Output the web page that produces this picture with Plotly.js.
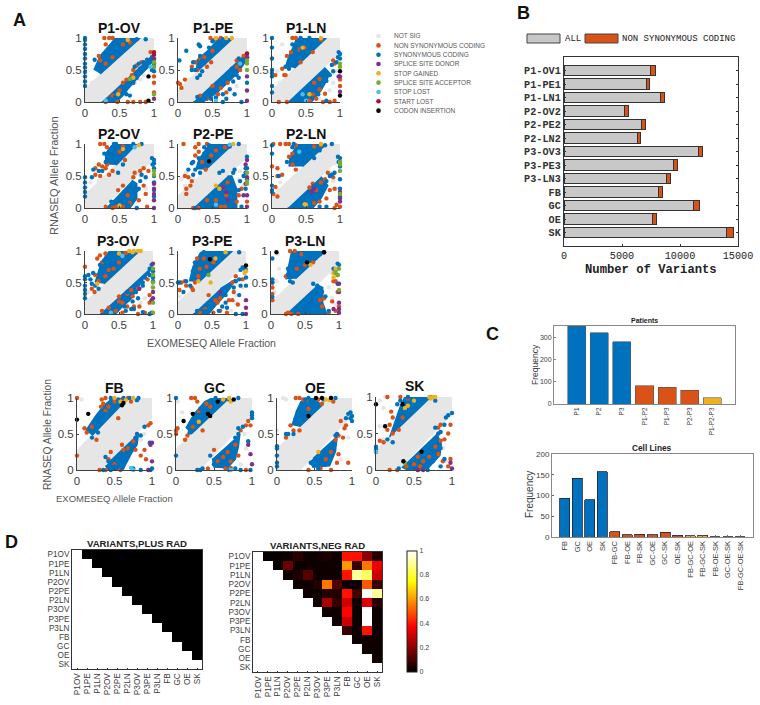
<!DOCTYPE html>
<html><head><meta charset="utf-8">
<script src="https://cdn.plot.ly/plotly-3.0.1.min.js"></script>
<style>html,body{margin:0;padding:0;background:#fff}</style></head>
<body><div id="chart" style="width:760px;height:705px"></div>
<script>
/* ---------- panel A legend ---------- */
const CLASSES=['NOT SIG','NON SYNONYMOUS CODING','SYNONYMOUS CODING','SPLICE SITE DONOR','STOP GAINED','SPLICE SITE ACCEPTOR','STOP LOST','START LOST','CODON INSERTION'];
const CLASS_COLORS=['#E6E6E6','#D95319','#0072BD','#7E2F8E','#EDB120','#77AC30','#4DBEEE','#A2142F','#000000'];

/* ---------- panel A: flat x,y lists ---------- */
const P1OV_band=[0,0,0,.22,.78,1,1,1,1,.76,.24,0];
const P1OV_cloud=[.13,.5,.22,.72,.38,.92,.44,1,.8,1,.22,.44,null,null,.24,0,.45,0,.55,.1,.62,.2,.8,.42,.93,.56,1,.68,1,.76];
const P1OV_notsig=[.1,.3,.07,.22,.14,.12,.2,.28,.72,.3,.85,.42,.9,.6,.8,.35];
const P1OV_ns=[.2,.72,.22,.65,.3,.9,.28,1,.35,1,.4,1,.55,.9,.65,.93,.4,.7,.3,.6,.35,.05,.4,.1,.55,.3,.6,.35,.68,.42,.7,.5,.75,.57,.82,.62,.5,.18,.47,0,.62,0,.7,0,.8,0,.88,0,.3,0,.95,.78,1,.4,1,.3,1,.15];
const P1OV_syn=[0,.25,0,.32,0,.4,0,.47,0,.54,0,.6,0,.68,0,.75,0,.83,0,.9,0,.97,0,1,.14,.66,.75,.98,.88,.98,.72,.55,.78,.6,.85,.62,.9,.66,.8,.52,.66,.32,.7,.3,.75,.38,.6,.12,.65,.1,1,.48,1,.55,1,.6,.97,.5,1,.67,.97,.7,.35,.05,.44,.08];
const P1OV_don=[1,.68,1,.05];
const P1OV_gain=[.7,.38,.48,.12,.62,.97];
const P1OV_acc=[1,.55,1,.62,1,.12,.65,.36];
const P1OV_lost=[.95,.55,.3,.02];
const P1OV_start=[1,.78,1,.74];
const P1OV_ins=[.92,.4,.92,.02];

const P1PE_band=[0,0,0,.2,.8,1,1,1,1,.78,.22,0];
const P1PE_cloud=[.27,.5,.28,.66,.45,.82,.56,.95,.6,1,.8,1,.3,.5,null,null,.22,0,.36,0,.48,.08,.58,.16,.72,.3,.87,.46,.97,.62,.97,.75];
const P1PE_notsig=[.05,.15,.1,.08,.15,.2,.3,.02,.75,.45,.85,.25,.15,.35];
const P1PE_ns=[0,.3,.03,.28,.05,.22,.1,.35,.2,.55,.25,.62,.32,.68,.38,.7,.48,.62,.47,1,.52,.97,.62,1,.5,.8,.28,.5,.42,.55,.32,.1,.42,.05,.5,.25,.58,.12,.62,.22,.7,.15,.72,.3,.85,.55,.9,.5,.85,.65,1,.75,.95,.72];
const P1PE_syn=[.02,.65,.12,.8,.22,.62,.25,.5,.2,.5,.32,.42,.35,.48,.28,.38,.32,.72,.35,.65,.45,.85,.5,.95,.65,.98,.3,.9,.32,.87,.4,.06,.3,.02,.28,.08,.48,.05,.55,.07,.65,.0,.75,.2,.8,.32,.85,.42,.9,.6,.88,.68,.78,.52,.7,.05,.82,.12,.88,.38,.92,.0,1,.7,1,.3,.65,.12];
const P1PE_don=[1,.4,1,.18,1,.02,1,.7];
const P1PE_gain=[.55,1,.7,1,.78,1];
const P1PE_acc=[1,.6,1,.65,1,.5];
const P1PE_lost=[.9,.6,.55,.02];
const P1PE_start=[1,.76];
const P1PE_ins=[];

const P1LN_band=[0,0,0,.2,.8,1,1,1,1,.77,.23,0];
const P1LN_cloud=[.2,.55,.25,.72,.33,.9,.36,1,.8,1,.33,.53,null,null,.23,0,.58,0,.72,.18,.8,.33,.85,.45,.77,.54];
const P1LN_notsig=[.15,.9,.08,.48,.12,.3,.1,.12,.05,.22,.95,.48,.9,.3,.85,.18,.7,.05];
const P1LN_ns=[.3,1,.35,1,.18,.42,.2,.42,.15,.52,.05,.42,.22,.72,.28,.78,.38,.82,.48,.85,.72,.97,.6,.78,.42,.62,.9,.65,.92,.6,.7,.36,.62,.3,.55,.02,.6,.12,.65,.05,.22,0,.1,0,.75,0,.85,0,.92,.02,1,.25,1,.35,.78,.13,.7,.2];
const P1LN_syn=[0,.15,0,.25,0,.4,0,.45,0,.5,0,.68,0,.85,0,1,.2,.55,.25,.52,.3,.9,.35,.82,.42,1,.55,1,.35,.72,.8,.33,.85,.42,.9,.48,.95,.62,1,.68,1,.75,.97,.7,.98,.78,.88,.58,.75,.3,.68,.12,.8,.02,.6,.18,.42,.05];
const P1LN_don=[1,.4,1,.16,.98,.4];
const P1LN_gain=[.72,1,.45,.85,.55,.12];
const P1LN_acc=[1,.55,1,.6];
const P1LN_lost=[.5,.02,.45,.12];
const P1LN_start=[];
const P1LN_ins=[1,.48,1,.1];

const P2OV_band=[0,0,0,.22,.75,1,1,1,1,.75,.25,0];
const P2OV_cloud=[.3,.68,.3,.85,.38,.97,.42,1,.75,1,.5,.72,.45,.67,null,null,.3,0,.65,0,.75,.15,.75,.38,.68,.43];
const P2OV_notsig=[.08,.4,.15,.3,.22,.15,.12,.08,.8,.5,.92,.8,.85,.78,.88,.3,.72,.6,.6,.05,.2,.42];
const P2OV_ns=[.22,1,.28,1,.32,.95,.15,.62,.2,.68,.25,.65,.15,.52,.22,.5,.3,.62,.35,.52,.32,.68,.4,.58,.5,.88,.55,.96,.58,.75,.62,.2,.55,.35,.48,.28,.3,.02,.45,.02,.4,0,.7,.48,.72,.55,.8,.58,.85,.62,.92,.58,.85,.35,.88,.22,.9,.02,.55,.02,.65,.08,.78,.12];
const P2OV_syn=[0,.48,0,.4,0,.32,0,.25,0,.18,.1,.48,.12,.6,.2,.58,.25,.58,.3,.72,.32,.75,.28,.85,.4,.92,.42,1,.45,1,.7,1,.82,1,.55,.68,.48,.55,.62,.05,.75,.28,.8,.42,.82,.52,.88,.48,.78,.3,.42,.08,.38,.1,.65,.3,1,.75,1,.7,.98,.68,.97,.78,1,.62,1,.5,1,.4,1,.28,1,.18,.75,0];
const P2OV_don=[1,.38,1,.3,1,.22,1,.12,1,0];
const P2OV_gain=[.55,.92,.78,.98,.5,.04];
const P2OV_acc=[1,.58,1,.52];
const P2OV_lost=[.72,.95];
const P2OV_start=[];
const P2OV_ins=[];

const P2PE_band=[0,0,0,.2,.8,1,1,1,1,.78,.22,0];
const P2PE_cloud=[.26,.6,.3,.75,.42,.94,.48,1,.8,1,.4,.6,null,null,.22,0,.85,0,.85,.3,.78,.5,.72,.5];
const P2PE_notsig=[.12,.55,.05,.45,.1,.35,.18,.28,.05,.1,.22,.45,.92,.8,.85,.72,.9,.58,.88,.45,.95,.35];
const P2PE_ns=[.08,1,.1,.5,.15,.48,.2,.42,.12,.3,.18,.35,.25,.82,.3,.88,.25,.95,.35,.72,.4,.6,.42,1,.55,.9,.68,.95,.3,1,.48,.82,.65,.32,.7,.2,.72,.4,.42,.12,.55,.12,.62,.02,.68,.02,.85,.1,.88,.2,.92,.3,1,.1,.22,0,.3,0,.12,.22];
const P2PE_syn=[.15,.6,.25,.6,.22,.52,.32,.55,.2,.7,.3,.78,.22,.72,.38,.85,.38,.95,.45,.98,.75,.96,.88,1,.35,.02,.92,.02,.88,.28,.9,.42,.8,.55,.82,.6,.98,.62,.98,.55,1,.8,1,.62,1,.45,.98,.3,.6,.55,.65,.58,.25,0,.95,.5];
const P2PE_don=[1,.75,.98,.68,1,.48,.98,.38,.65,.32,.7,.25,.72,.12,1,.2,1,.02,.95,.2];
const P2PE_gain=[.8,1,.6,.3,.55,.35];
const P2PE_acc=[1,.55,1,.42,1,.38];
const P2PE_lost=[.75,.99,.55,.05];
const P2PE_start=[];
const P2PE_ins=[.45,.73];

const P2LN_band=[0,0,0,.2,.8,1,1,1,1,.77,.23,0];
const P2LN_cloud=[.25,.65,.28,.82,.36,.97,.4,1,.8,1,.45,.65,null,null,.23,0,.6,0,.72,.15,.82,.35,.72,.49];
const P2LN_notsig=[.12,.4,.08,.3,.05,.15,.15,.1,.12,.02,.92,.7,.85,.55,.9,.42,.95,.3,.02,.05];
const P2LN_ns=[0,.65,.08,.62,.08,.5,.15,.52,.05,.33,.02,.22,.08,.18,.12,1,.2,1,.25,1,.02,1,.25,.8,.3,.68,.35,.6,.3,.85,.62,.96,.72,.98,.35,.98,.55,.32,.6,.38,.65,.28,.72,.4,.78,.45,.82,.55,.9,.48,.85,.28,.92,.3,.62,.08,.7,.1,.95,.05,1,.02,.92,0,.8,.15];
const P2LN_syn=[0,.85,0,.98,0,.35,0,.28,0,.25,.1,.5,.22,.72,.28,.75,.3,.95,.32,1,.42,.82,.88,1,.62,.78,.7,.9,.78,.98,.85,.5,.8,.42,.88,.52,.92,.55,.98,.72,1,.78,1,.72,.97,.8,1,.65,1,.45,1,.3,1,.18,.62,.35,.7,.02,.8,.02];
const P2LN_don=[1,.25,1,.15,.62,.3,.58,.25,1,.1];
const P2LN_gain=[.72,1,.5,.05,.48,.06];
const P2LN_acc=[1,.72,1,.68,1,.58,1,.22];
const P2LN_lost=[.4,.88];
const P2LN_start=[];
const P2LN_ins=[];

const P3OV_band=[0,0,0,.2,.8,1,1,1,1,.77,.23,0];
const P3OV_cloud=[.15,.5,.22,.75,.3,.92,.36,1,.8,1,.28,.48,null,null,.22,0,.45,0,.55,.12,.66,.22,.76,.38,.85,.55,.94,.65,.98,.75];
const P3OV_notsig=[.1,.2,.05,.35,.95,.3,.88,.25,.82,.18,.98,.45];
const P3OV_ns=[.0,.75,.1,.4,.14,.35,.15,.62,.2,.52,.18,.88,.22,.93,.25,.82,.3,.96,.3,.6,.35,.7,.55,.93,.6,.97,.42,.72,.5,.82,.25,.05,.35,.1,.45,.05,.5,.2,.5,.28,.55,.18,.62,.12,.62,.32,.68,.38,.7,.28,.78,.4,.8,.12,.72,.12,.55,.02,.78,0,.88,.02,.92,.55,.95,.18,.95,.3];
const P3OV_syn=[0,.25,0,.32,0,.38,0,.45,0,.55,0,.6,.05,.62,.08,.55,.1,.48,.12,.65,.2,.4,.22,.78,.28,.85,.15,.45,.62,.35,.68,.08,.72,.08,.6,.05,.75,.35,.85,.5,.88,.58,.95,.72,.98,.78,1,.68,1,.58,1,.52,.95,.62,.85,.45,.78,.25,.7,.2,.58,.12,.85,.03,.95,0,.98,.02];
const P3OV_don=[1,.8,1,.25,.98,.22,.8,.4,1,.35];
const P3OV_gain=[.65,1,.72,1,.78,1,.82,1,.18,.48,.5,.96,.7,.98];
const P3OV_acc=[1,.62,1,.72,1,.5,1,.42,1,.18,1,.02];
const P3OV_lost=[.38,.02,.55,.92];
const P3OV_start=[];
const P3OV_ins=[];

const P3PE_band=[0,0,0,.2,.8,1,1,1,1,.78,.22,0];
const P3PE_cloud=[.17,.52,.22,.75,.33,.97,.38,1,.8,1,.3,.5,null,null,.22,0,.45,0,.55,.13,.66,.26,.76,.4,.84,.55,.62,.4];
const P3PE_notsig=[.02,.28,.05,.15,.1,.1,.15,.22,.05,.02,.12,.02,.85,.3,.95,.42,.85,.18,.78,.05,.02,.38];
const P3PE_ns=[.02,.38,.05,.5,.1,.52,.12,.45,.2,.42,.25,.5,.3,.6,.32,.72,.28,.88,.38,.88,.42,.75,.52,.82,.22,.38,.32,.02,.4,.08,.45,.3,.55,.22,.58,.18,.62,.25,.75,.22,.8,.22,.82,.35,.88,.15,.62,.05,.52,.02,.72,.02,.8,.5,.85,.6,.95,.55];
const P3PE_syn=[0,.5,.02,.5,.08,.35,.12,.52,.22,.68,.25,.82,.18,.45,.38,.98,.45,.92,.9,.98,.4,.05,.28,.05,.6,.05,.65,.12,.7,.18,.7,.3,.82,.42,.85,.52,.9,.55,.92,.7,.95,.74,.98,.72,.92,.45,.9,.3,.95,.0,.85,.0,.72,.1,1,.7,1,.58,1,.45];
const P3PE_don=[1,.22,1,.1,1,.0,.62,.35];
const P3PE_gain=[.48,.5,.3,.52,.55,.88,.7,.98,1,.68,.98,.65];
const P3PE_acc=[.45,.62];
const P3PE_lost=[];
const P3PE_start=[];
const P3PE_ins=[.47,.87,1,.77];

const P3LN_band=[0,0,0,.2,.8,1,1,1,1,.78,.22,0];
const P3LN_cloud=[.22,.55,.26,.75,.3,.97,.33,1,.8,1,.36,.56,null,null,.22,0,.82,0,.76,.18,.76,.42,.68,.46];
const P3LN_notsig=[.1,.95,.12,.72,.08,.52,.05,.35,.1,.2,.02,.1,.1,.02,.15,.28,.9,.65,.85,.42,.9,.25,.95,.15];
const P3LN_ns=[.02,.5,.02,.42,.02,.32,.02,.22,.25,.02,.22,.6,.28,1,.35,1,.38,.72,.45,.95,.5,.78,.62,.82,.22,0,.3,0,.4,0,.72,.22,.75,.12,.78,.25,.9,.2,.95,.05,.85,.02,.98,.35,1,.12,.92,.52,.95,.52,.98,.62];
const P3LN_syn=[.02,.88,.02,.55,.02,.5,.02,.27,.25,.62,.28,.52,.32,.5,.3,.78,.25,.72,.5,.95,.78,.98,.72,.95,.62,.48,.68,.45,.75,.35,.8,.28,.35,.05,.85,.05,.92,.72,.95,.7,.98,.8,1,.78,.98,.48];
const P3LN_don=[1,.48,1,.35,1,.18,1,.08,1,.02,.92,.08];
const P3LN_gain=[.58,.78,.92,.58,.95,.72,.92,.65];
const P3LN_acc=[.98,.62,.95,.65,1,.72,1,.38];
const P3LN_lost=[];
const P3LN_start=[];
const P3LN_ins=[.08,.98,.78,.98,.53,.82];

const FB_band=[0,0,0,.28,.68,1,1,1,1,.72,.32,0];
const FB_cloud=[.12,.55,.25,.75,.36,.9,.48,1,.68,1,.2,.48,null,null,.38,.06,.42,0,.62,.02,.72,.22,.8,.35,.82,.5,.8,.48,.42,.1];
const FB_notsig=[.06,.98,.1,.22,.05,.05,.15,.02,.95,.65,.85,.42,.9,.5,.32,.05];
const FB_ns=[0,1,0,.2,.1,.58,.13,.52,.2,.6,.26,.42,.35,.92,.32,.88,.38,.82,.42,.88,.5,.95,.55,.72,.33,.98,.38,1,.6,.98,.68,1,.72,.95,.6,.35,.62,.28,.68,.3,.75,.4,.45,.25,.42,.15,.5,.08,.78,.28,.85,.2,.9,.28,.95,.62,.98,.65,.92,.15,.3,0,.58,0,.38,0];
const FB_syn=[.2,.45,.25,.6,.28,.52,.32,.72,.38,.78,.55,.98,.45,1,.62,1,.7,1,.8,.97,.82,1,.42,.12,.38,.18,.55,.15,.62,.2,.72,.28,.78,.45,.8,.5,.85,.48,.9,.6,.75,.02,.6,.02,.45,0,.35,0,.85,0,1,.02,.98,.0,.97,.38,.5,.05];
const FB_don=[1,.38,.98,.35,1,.12,.95,0];
const FB_gain=[.5,1,.58,.95,.65,.97,.75,1];
const FB_acc=[];
const FB_lost=[.75,0,.72,.03];
const FB_start=[];
const FB_ins=[0,.7,.15,.78,.6,.9,.62,.93];

const GC_band=[0,0,0,.3,.68,1,1,1,1,.75,.32,0];
const GC_cloud=[.13,.58,.24,.78,.38,.95,.48,1,.7,1,.2,.5,null,null,.48,.16,.5,.04,.68,.03,.78,.15,.82,.32,.84,.5];
const GC_notsig=[.02,.95,.08,.8,.05,.3,.18,.3,.1,.05,.02,.05,.9,.5,.85,.08,.92,.3,.25,.5];
const GC_ns=[.2,1,.25,1,.28,.95,.0,.55,.02,.58,.0,.5,.12,.42,.15,.48,.3,.82,.4,.92,.45,.88,.22,.6,.35,.55,.5,.28,.55,.12,.62,.18,.68,.25,.72,.12,.78,.35,.72,.03,.85,.55,.92,.62,.98,.62,.95,.68,.82,.2,.42,.02,.65,.02,.92,0];
const GC_syn=[.0,1,0,.2,.25,.78,.18,.52,.2,.65,.32,.85,.48,.97,.52,1,.7,.98,.82,1,.28,0,.32,0,.78,.45,.82,.5,.82,.58,.88,.6,.95,.4,.58,.08,.45,.2,.5,.08,.78,.02,.85,0,.7,0,1,.8,1,.76,1,.72,.35,.02,.98,0];
const GC_don=[.95,.35,.98,.22,1,.08];
const GC_gain=[.3,.67,.62,.98,.7,1,.72,.95];
const GC_acc=[];
const GC_lost=[.72,0];
const GC_start=[];
const GC_ins=[.1,.68,.22,.78,.42,.78,.45,.75,.55,.95,.76,.98];

const OE_band=[0,0,0,.3,.68,1,1,1,1,.75,.32,0];
const OE_cloud=[.2,.62,.26,.82,.32,.95,.48,1,.6,.9,.3,.6,null,null,.44,.12,.48,.04,.7,.06,.78,.26,.8,.46,.48,.16];
const OE_notsig=[.08,1,.12,.98,.0,.55,.05,.15,.02,.02,.12,.02,.85,.15,.95,.45];
const OE_ns=[.25,1,.3,1,.35,.98,.22,.55,.18,.62,.12,.45,.3,.55,.4,.98,.42,.85,.6,.92,.55,.98,.72,1,.75,.95,.65,.15,.72,.25,.78,.42,.82,.48,.88,.45,.92,.62,.85,.68,.9,.58,.8,.1,.95,.1,.42,0,.58,.02,.72,0,.82,.22];
const OE_syn=[.0,.33,0,.3,0,.2,0,.1,.12,.5,.15,.5,.22,.5,.25,.72,.35,.88,.45,.9,.38,.98,.42,1,.78,1,.62,.98,.5,.12,.45,.1,.78,.48,.55,.02,.8,.5,.92,.72,.95,.78,1,.68,1,.75,.98,.8,.98,.72,.0,.05];
const OE_don=[];
const OE_gain=[.55,.25,.65,.98,.7,.97];
const OE_acc=[];
const OE_lost=[];
const OE_start=[];
const OE_ins=[.52,1,.6,1,.72,1,.42,.75];

const SK_band=[0,0,0,.28,.72,1,1,1,1,.76,.3,0];
const SK_cloud=[.18,.45,.26,.68,.32,.87,.38,1,.72,1,.2,.48,null,null,.34,.04,.42,0,.68,.02,.84,.2,.86,.35,.8,.5];
const SK_notsig=[.05,.95,.12,1,.1,.85,.05,.6,.1,.42,.05,.2,.08,.08,.15,.02,.88,.3,.92,.12,.3,.08];
const SK_ns=[.15,1,.32,1,.42,.98,.2,.8,.22,.72,.18,.62,.15,.55,.05,.4,.1,.38,.35,.72,.3,.55,.22,.5,.4,.05,.5,.08,.55,.18,.58,.05,.62,.12,.7,.18,.78,.32,.82,.22,.85,.4,.9,.42,.95,.5,.98,.62,.88,.12,.95,.05,.98,.15,.82,.58,.85,.62,.55,.0,.28,0,.18,0];
const SK_syn=[0,.32,0,.28,0,.25,.15,.42,.22,.38,.28,.9,.32,.95,.38,.92,.42,1,.72,1,.78,.95,.92,.72,.95,.75,1,.78,.9,.62,.85,.52,.82,.5,.78,.58,.85,.3,.9,.15,.75,.12,.68,.08,.3,.02,.85,.05,.68,0];
const SK_don=[.55,0,.62,0,.98,.1,1,.02];
const SK_gain=[.42,.88,.38,.85,.7,1,.75,1,.78,1,.5,.95,.72,.98];
const SK_acc=[.38,.1];
const SK_lost=[0,.25];
const SK_start=[];
const SK_ins=[0,.9,.12,.6,.35,.9,.6,.25,.36,.12];

/* ---------- panel B ---------- */
const SAMPLES=['P1-OV1','P1-PE1','P1-LN1','P2-OV2','P2-PE2','P2-LN2','P3-OV3','P3-PE3','P3-LN3','FB','GC','OE','SK'];
const ALL_VARIANTS=[7430,7080,8290,5180,6650,6300,11570,9440,8810,8150,11200,7660,13990];
const NONSYN_VARIANTS=[490,290,380,380,375,320,410,350,400,340,460,340,640];

/* ---------- panel C ---------- */
const PATIENT_SETS=['P1','P2','P3','P1-P2','P1-P3','P2-P3','P1-P2-P3'];
const PATIENT_FREQ=[348,319,279,82,75,61,28];
const PATIENT_COLORS=['#0072BD','#0072BD','#0072BD','#D95319','#D95319','#D95319','#EDB120'];
const CELL_SETS=['FB','GC','OE','SK','FB-GC','FB-OE','FB-SK','GC-OE','GC-SK','OE-SK','FB-GC-OE','FB-GC-SK','FB-OE-SK','GC-OE-SK','FB-GC-OE-SK'];
const CELL_FREQ=[93,141,90,157,13,5,7,5,11,4,3,4,1,1,1];
const CELL_COLORS=['#0072BD','#0072BD','#0072BD','#0072BD','#D95319','#D95319','#D95319','#D95319','#D95319','#D95319','#EDB120','#EDB120','#EDB120','#EDB120','#7E2F8E'];

/* ---------- panel D ---------- */
const HEAT_LABELS=['P1OV','P1PE','P1LN','P2OV','P2PE','P2LN','P3OV','P3PE','P3LN','FB','GC','OE','SK'];
const N=null;
const PLUS_RAD=[
[N,0,0,0,0,0,0,0,0,0,0,0,0],[N,N,0,0,0,0,0,0,0,0,0,0,0],[N,N,N,0,0,0,0,0,0,0,0,0,0],
[N,N,N,N,0,0,0,0,0,0,0,0,0],[N,N,N,N,N,0,0,0,0,0,0,0,0],[N,N,N,N,N,N,0,0,0,0,0,0,0],
[N,N,N,N,N,N,N,0,0,0,0,0,0],[N,N,N,N,N,N,N,N,0,0,0,0,0],[N,N,N,N,N,N,N,N,N,0,0,0,0],
[N,N,N,N,N,N,N,N,N,N,0,0,0],[N,N,N,N,N,N,N,N,N,N,N,0,0],[N,N,N,N,N,N,N,N,N,N,N,N,0],
[N,N,N,N,N,N,N,N,N,N,N,N,N]];
const NEG_RAD=[
[N,.01,.01,.02,.06,.02,.02,.04,.02,.4,.4,.2,.05],
[N,N,.01,.16,.02,.02,.02,.02,.02,.6,.08,.55,.35],
[N,N,N,.02,.04,.13,.02,.02,.02,.4,.9,.85,.3],
[N,N,N,N,.02,.02,.05,.55,.12,.02,.02,.5,.08],
[N,N,N,N,N,.02,.02,.05,.05,.4,.1,1,.9],
[N,N,N,N,N,N,.02,.25,.08,.3,.02,.33,.06],
[N,N,N,N,N,N,N,.02,.02,.38,.02,1,.02],
[N,N,N,N,N,N,N,N,.02,.3,.02,1,.02],
[N,N,N,N,N,N,N,N,N,.08,.02,.4,.02],
[N,N,N,N,N,N,N,N,N,N,.02,.02,.02],
[N,N,N,N,N,N,N,N,N,N,N,.02,.02],
[N,N,N,N,N,N,N,N,N,N,N,N,.02],
[N,N,N,N,N,N,N,N,N,N,N,N,N]];

/* ---------- layout helpers ---------- */
const W=760,H=705,SANS='"Liberation Sans",Arial,sans-serif',MONO='"Liberation Mono",monospace',GREY='#404040';
const traces=[],layout={width:W,height:H,margin:{l:0,r:0,t:0,b:0,pad:0},paper_bgcolor:'#fff',plot_bgcolor:'rgba(0,0,0,0)',showlegend:false,
  font:{family:SANS,color:GREY},annotations:[],shapes:[],
  coloraxis:{cmin:0,cmax:1,colorscale:[[0,'#000000'],[.375,'#ff0000'],[.75,'#ffff00'],[1,'#ffffff']],
    colorbar:{x:407/W,xanchor:'left',xpad:0,ypad:0,y:1-611/H,yanchor:'middle',len:121/H,lenmode:'fraction',thickness:10,thicknessmode:'pixels',
      tickvals:[0,.2,.4,.6,.8,1],ticks:'',tickfont:{size:7,color:GREY},outlinecolor:'#222',outlinewidth:1}}};
let axN=0;
function axes(x0,x1,y0,y1,xo,yo){
  axN++;const s=axN===1?'':axN;
  layout['xaxis'+s]=Object.assign({domain:[x0/W,x1/W],anchor:'y'+s,zeroline:false,showgrid:false,fixedrange:true},xo);
  layout['yaxis'+s]=Object.assign({domain:[1-y1/H,1-y0/H],anchor:'x'+s,zeroline:false,showgrid:false,fixedrange:true},yo);
  return {x:'x'+s,y:'y'+s};
}
function note(x,y,text,size,o){
  layout.annotations.push(Object.assign({xref:'paper',yref:'paper',x:x/W,y:1-y/H,text:text,showarrow:false,xanchor:'center',yanchor:'middle',
    font:{size:size,family:SANS,color:GREY}},o||{}));
}
const unpack=a=>({x:a.filter((v,i)=>i%2===0),y:a.filter((v,i)=>i%2===1)});

function panel(title,x0,x1,y0,y1,d){
  const sc={tickmode:'array',tickvals:[0,.5,1],ticktext:['0','0.5','1'],range:[0,1],showline:true,linecolor:GREY,linewidth:1,ticks:'inside',ticklen:2,tickcolor:GREY,
    tickfont:{size:11.5,family:SANS,color:GREY}};
  const a=axes(x0,x1,y0,y1,Object.assign({},sc),Object.assign({},sc));
  const poly=(arr,c,w)=>{const u=unpack(arr);traces.push({type:'scatter',mode:'lines',fill:'toself',fillcolor:c,line:{width:w,color:c},x:u.x,y:u.y,xaxis:a.x,yaxis:a.y,hoverinfo:'skip'});};
  const pts=(arr,i)=>{if(!arr.length)return;const u=unpack(arr);traces.push({type:'scatter',mode:'markers',name:CLASSES[i],x:u.x,y:u.y,xaxis:a.x,yaxis:a.y,cliponaxis:false,
    marker:{size:4.4,color:CLASS_COLORS[i],line:{width:0}}});};
  poly(d.band,CLASS_COLORS[0],0);
  pts(d.notsig,0);
  poly(d.cloud,CLASS_COLORS[2],1.5);
  pts(d.ns,1);pts(d.syn,2);pts(d.don,3);pts(d.gain,4);pts(d.acc,5);pts(d.lost,6);pts(d.start,7);pts(d.ins,8);
  note((x0+x1)/2,y0-10.5,'<b>'+title+'</b>',14,{font:{size:14,family:SANS,color:'#111'}});
}

/* ---------- A ---------- */
panel('P1-OV',85,154,38,102,{band:P1OV_band,cloud:P1OV_cloud,notsig:P1OV_notsig,ns:P1OV_ns,syn:P1OV_syn,don:P1OV_don,gain:P1OV_gain,acc:P1OV_acc,lost:P1OV_lost,start:P1OV_start,ins:P1OV_ins});
panel('P1-PE',178,247,38,102,{band:P1PE_band,cloud:P1PE_cloud,notsig:P1PE_notsig,ns:P1PE_ns,syn:P1PE_syn,don:P1PE_don,gain:P1PE_gain,acc:P1PE_acc,lost:P1PE_lost,start:P1PE_start,ins:P1PE_ins});
panel('P1-LN',272,340,38,102,{band:P1LN_band,cloud:P1LN_cloud,notsig:P1LN_notsig,ns:P1LN_ns,syn:P1LN_syn,don:P1LN_don,gain:P1LN_gain,acc:P1LN_acc,lost:P1LN_lost,start:P1LN_start,ins:P1LN_ins});
panel('P2-OV',85,154,144,208,{band:P2OV_band,cloud:P2OV_cloud,notsig:P2OV_notsig,ns:P2OV_ns,syn:P2OV_syn,don:P2OV_don,gain:P2OV_gain,acc:P2OV_acc,lost:P2OV_lost,start:P2OV_start,ins:P2OV_ins});
panel('P2-PE',178,247,144,208,{band:P2PE_band,cloud:P2PE_cloud,notsig:P2PE_notsig,ns:P2PE_ns,syn:P2PE_syn,don:P2PE_don,gain:P2PE_gain,acc:P2PE_acc,lost:P2PE_lost,start:P2PE_start,ins:P2PE_ins});
panel('P2-LN',272,340,144,208,{band:P2LN_band,cloud:P2LN_cloud,notsig:P2LN_notsig,ns:P2LN_ns,syn:P2LN_syn,don:P2LN_don,gain:P2LN_gain,acc:P2LN_acc,lost:P2LN_lost,start:P2LN_start,ins:P2LN_ins});
panel('P3-OV',85,153,251,314,{band:P3OV_band,cloud:P3OV_cloud,notsig:P3OV_notsig,ns:P3OV_ns,syn:P3OV_syn,don:P3OV_don,gain:P3OV_gain,acc:P3OV_acc,lost:P3OV_lost,start:P3OV_start,ins:P3OV_ins});
panel('P3-PE',178,246,251,314,{band:P3PE_band,cloud:P3PE_cloud,notsig:P3PE_notsig,ns:P3PE_ns,syn:P3PE_syn,don:P3PE_don,gain:P3PE_gain,acc:P3PE_acc,lost:P3PE_lost,start:P3PE_start,ins:P3PE_ins});
panel('P3-LN',271,339,251,314,{band:P3LN_band,cloud:P3LN_cloud,notsig:P3LN_notsig,ns:P3LN_ns,syn:P3LN_syn,don:P3LN_don,gain:P3LN_gain,acc:P3LN_acc,lost:P3LN_lost,start:P3LN_start,ins:P3LN_ins});
panel('FB',77,152,398,470,{band:FB_band,cloud:FB_cloud,notsig:FB_notsig,ns:FB_ns,syn:FB_syn,don:FB_don,gain:FB_gain,acc:FB_acc,lost:FB_lost,start:FB_start,ins:FB_ins});
panel('GC',176,252,398,470,{band:GC_band,cloud:GC_cloud,notsig:GC_notsig,ns:GC_ns,syn:GC_syn,don:GC_don,gain:GC_gain,acc:GC_acc,lost:GC_lost,start:GC_start,ins:GC_ins});
panel('OE',277,352,398,470,{band:OE_band,cloud:OE_cloud,notsig:OE_notsig,ns:OE_ns,syn:OE_syn,don:OE_don,gain:OE_gain,acc:OE_acc,lost:OE_lost,start:OE_start,ins:OE_ins});
panel('SK',376,452,397,470,{band:SK_band,cloud:SK_cloud,notsig:SK_notsig,ns:SK_ns,syn:SK_syn,don:SK_don,gain:SK_gain,acc:SK_acc,lost:SK_lost,start:SK_start,ins:SK_ins});

note(54,176,'RNASEQ Allele Fraction',11,{textangle:-90,font:{size:11,family:SANS,color:'#555'}});
note(212,343,'EXOMESEQ Allele Fraction',10.5,{font:{size:10.5,family:SANS,color:'#555'}});
note(47,435,'RNASEQ Allele Fraction',10.3,{textangle:-90,font:{size:10.3,family:SANS,color:'#555'}});
note(114,498,'EXOMESEQ Allele Fraction',9.5,{font:{size:9.5,family:SANS,color:'#555'}});

/* A legend */
const legAx=axes(373,384,31.4,115.3,{range:[-1,1],visible:false},{range:[8.5,-.5],visible:false});
traces.push({type:'scatter',mode:'markers',x:CLASSES.map(()=>0),y:CLASSES.map((c,i)=>i),xaxis:legAx.x,yaxis:legAx.y,
  marker:{size:4.6,color:CLASS_COLORS},hoverinfo:'skip'});
CLASSES.forEach((c,i)=>note(392,36+i*9.33,c,6.5,{xanchor:'left',font:{size:6.5,family:SANS,color:'#555'}}));

/* ---------- B ---------- */
const monoTick={size:10.2,family:MONO,color:'#333',weight:'bold'};
const bAx=axes(564,738,57,246,
  {range:[0,15000],tickvals:[0,5000,10000,15000],tickformat:'d',showline:true,mirror:true,linecolor:'#333',linewidth:1.2,ticks:'inside',ticklen:2,tickcolor:'#333',tickfont:{size:10.2,family:MONO,color:'#222'}},
  {range:[14,0],tickmode:'array',tickvals:SAMPLES.map((s,i)=>i+1),ticktext:SAMPLES,showline:true,mirror:'ticks',linecolor:'#333',linewidth:1.2,ticks:'inside',ticklen:2,tickcolor:'#333',tickfont:monoTick});
layout.barmode='stack';layout.bargap=.2;
traces.push({type:'bar',orientation:'h',name:'ALL',x:ALL_VARIANTS,y:SAMPLES.map((s,i)=>i+1),xaxis:bAx.x,yaxis:bAx.y,marker:{color:'#C8C8C8',line:{color:'#333',width:1}}});
traces.push({type:'bar',orientation:'h',name:'NON SYNONYMOUS CODING',x:NONSYN_VARIANTS,y:SAMPLES.map((s,i)=>i+1),xaxis:bAx.x,yaxis:bAx.y,marker:{color:'#D95319',line:{color:'#333',width:1}}});
note(651,270,'<b>Number of Variants</b>',12.2,{font:{size:12.2,family:MONO,color:'#222'}});
[[527,560,'#C8C8C8'],[585,618,'#D95319']].forEach(r=>layout.shapes.push({type:'rect',xref:'paper',yref:'paper',x0:r[0]/W,x1:r[1]/W,y0:1-43/H,y1:1-34/H,fillcolor:r[2],line:{color:'#444',width:1}}));
note(563,38.5,'ALL',9,{xanchor:'left',font:{size:9,family:MONO,color:'#222'}});
note(620,38.5,'NON SYNONYMOUS CODING',9,{xanchor:'left',font:{size:9,family:MONO,color:'#222'}});

/* ---------- C ---------- */
const frameC={showline:true,mirror:true,linecolor:'#888',linewidth:1};
const c1=axes(554,735,326,404,
  Object.assign({range:[0,8],tickmode:'array',tickvals:PATIENT_SETS.map((s,i)=>i+1),ticktext:PATIENT_SETS,tickangle:-90,ticks:'',tickfont:{size:6.4,color:GREY}},frameC),
  Object.assign({range:[0,350],tickvals:[0,100,200,300],ticks:'inside',ticklen:2,tickcolor:'#888',tickfont:{size:7,color:GREY}},frameC));
traces.push({type:'bar',x:PATIENT_SETS.map((s,i)=>i+1),y:PATIENT_FREQ,xaxis:c1.x,yaxis:c1.y,marker:{color:PATIENT_COLORS,line:{color:'#555',width:.6}}});
note(644,320.5,'<b>Patients</b>',7,{font:{size:7,family:SANS,color:'#222'}});
note(535,365,'Frequency',8.5,{textangle:-90});
const c2=axes(552,753,454,537,
  Object.assign({range:[0,16],tickmode:'array',tickvals:CELL_SETS.map((s,i)=>i+1),ticktext:CELL_SETS,tickangle:-90,ticks:'inside',ticklen:2,tickcolor:'#666',tickfont:{size:7.5,color:GREY}},frameC),
  Object.assign({range:[0,200],tickvals:[0,50,100,150,200],ticks:'inside',ticklen:2,tickcolor:'#666',tickfont:{size:8,color:GREY}},frameC));
traces.push({type:'bar',x:CELL_SETS.map((s,i)=>i+1),y:CELL_FREQ,xaxis:c2.x,yaxis:c2.y,marker:{color:CELL_COLORS,line:{color:'#223',width:.8}}});
note(652,447.5,'<b>Cell Lines</b>',8.3,{font:{size:8.3,family:SANS,color:'#222'}});
note(529,495,'Frequency',10,{textangle:-90});

/* ---------- D ---------- */
function heat(x0,x1,y0,y1,z,title){
  const ids=HEAT_LABELS.map((s,i)=>i);
  const a=axes(x0,x1,y0,y1,
    {range:[-.5,12.5],tickmode:'array',tickvals:ids,ticktext:HEAT_LABELS,tickangle:-90,showline:true,mirror:true,linecolor:'#333',linewidth:1,ticks:'inside',ticklen:1.5,tickcolor:'#333',tickfont:{size:8.2,color:GREY}},
    {range:[12.5,-.5],tickmode:'array',tickvals:ids,ticktext:HEAT_LABELS,showline:true,mirror:true,linecolor:'#333',linewidth:1,ticks:'',tickfont:{size:8.2,color:GREY}});
  traces.push({type:'heatmap',z:z,x:ids,y:ids,xaxis:a.x,yaxis:a.y,coloraxis:'coloraxis',hoverongaps:false,xgap:0,ygap:0});
  note((x0+x1)/2,y0-7,'<b>'+title+'</b>',9.6,{font:{size:9.6,family:SANS,color:'#222'}});
}
heat(72,202,550,669,PLUS_RAD,'VARIANTS,PLUS RAD');
heat(253,382,552,672,NEG_RAD,'VARIANTS,NEG RAD');

/* panel letters */
[['A',19,20],['B',523,13],['C',492,334],['D',11,542]].forEach(l=>note(l[1],l[2],'<b>'+l[0]+'</b>',18,{font:{size:18,family:SANS,color:'#111'}}));

Plotly.newPlot('chart',traces,layout,{displayModeBar:false,staticPlot:true});
</script></body></html>
